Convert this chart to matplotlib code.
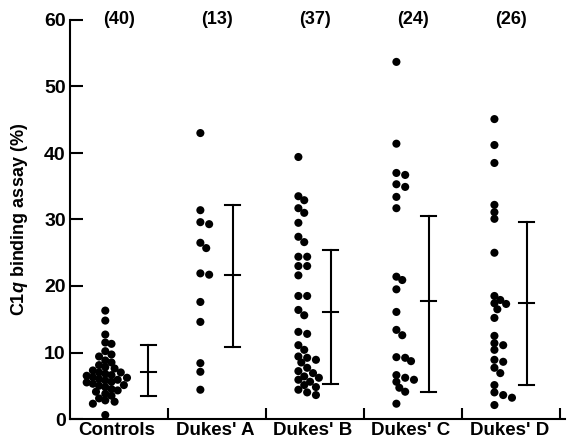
import matplotlib
matplotlib.use("Agg")
import matplotlib.pyplot as plt
import numpy as np

plt.rcParams['font.family'] = ['Liberation Sans', 'DejaVu Sans']
plt.rcParams['mathtext.fontset'] = 'custom'
plt.rcParams['mathtext.it'] = 'Liberation Sans:italic:bold'
plt.rcParams['mathtext.rm'] = 'Liberation Sans:bold'

categories = ["Controls", "Dukes' A", "Dukes' B", "Dukes' C", "Dukes' D"]
counts = ["(40)", "(13)", "(37)", "(24)", "(26)"]

controls = [16.3, 14.8, 12.7, 11.5, 11.3, 10.2, 9.7, 9.4, 8.8, 8.5, 8.1, 7.8, 7.6,
            7.3, 7.0, 7.0, 6.8, 6.6, 6.5, 6.3, 6.2, 6.0, 5.9, 5.8, 5.6, 5.5, 5.3,
            5.1, 5.0, 4.8, 4.5, 4.3, 4.1, 3.8, 3.5, 3.1, 2.8, 2.6, 2.3, 0.6]
dukes_a = [43.0, 31.4, 29.6, 29.3, 26.5, 25.7, 21.9, 21.7, 17.6, 14.6, 8.4, 7.1, 4.4]
dukes_b = [39.4, 33.5, 32.9, 31.7, 31.0, 29.5, 27.4, 26.6, 24.4, 24.4, 23.0, 23.0,
           21.6, 18.5, 18.5, 16.4, 15.6, 13.1, 12.8, 11.1, 10.4, 9.4, 9.2, 8.9,
           8.5, 7.7, 7.2, 6.9, 6.4, 6.2, 5.9, 5.6, 5.1, 4.8, 4.4, 4.0, 3.6]
dukes_c = [53.7, 41.4, 37.0, 36.7, 35.3, 34.9, 33.4, 31.7, 21.4, 20.9, 19.5, 16.1,
           13.4, 12.6, 9.3, 9.2, 8.7, 6.6, 6.2, 5.9, 5.6, 4.7, 4.1, 2.3]
dukes_d = [45.1, 41.2, 38.5, 32.2, 31.1, 30.1, 25.0, 18.5, 17.9, 17.4, 17.3, 16.5,
           15.2, 12.5, 11.4, 11.1, 10.4, 8.9, 8.6, 7.7, 6.9, 5.1, 4.0, 3.6, 3.2, 2.1]

err_mid = [7.0, 21.7, 16.1, 17.7, 17.4]
err_low = [3.4, 10.8, 5.3, 4.1, 5.1]
err_high = [11.1, 32.2, 25.4, 30.5, 29.6]

groups = [controls, dukes_a, dukes_b, dukes_c, dukes_d]

W, H = 567, 444
fig = plt.figure(figsize=(W / 100, H / 100), dpi=100)
ax_left, ax_bottom, ax_w, ax_h = 70 / W, 25 / H, 495 / W, 399 / H
ax = fig.add_axes([ax_left, ax_bottom, ax_w, ax_h])
xmin, xmax, ymin, ymax = 0, 5.05, 0, 60
ax.set_xlim(xmin, xmax)
ax.set_ylim(ymin, ymax)

px_per_x = ax_w * W / (xmax - xmin)
px_per_y = ax_h * H / (ymax - ymin)


def swarm(values, center, diam, mode):
    placed = []
    xs = []
    for v in values:
        py = v * px_per_y
        if mode == 'both':
            cands = [0]
            for k in range(1, 20):
                cands += [k * diam * 0.5, -k * diam * 0.5]
        else:
            cands = [k * diam * 0.45 for k in range(0, 20)]
        for off in cands:
            ok = all((off - ox) ** 2 + (py - oy) ** 2 >= diam ** 2 for ox, oy in placed)
            if ok:
                break
        placed.append((off, py))
        xs.append(center + off / px_per_x)
    return xs


for i, vals in enumerate(groups):
    if i == 0:
        xs = swarm(vals, i + 0.36, 6.2, 'both')
    else:
        xs = swarm(vals, i + 0.33, 6.5, 'right')
    ax.scatter(xs, vals, s=34, color='black', edgecolors='none', zorder=3, clip_on=False)

    ex = i + (0.80 if i == 0 else 0.66)
    cap = 0.075
    ax.plot([ex, ex], [err_low[i], err_high[i]], color='black', lw=1.5)
    for yv in (err_low[i], err_mid[i], err_high[i]):
        ax.plot([ex - cap, ex + cap], [yv, yv], color='black', lw=1.5)

    ax.text(i + 0.5, 60, counts[i], ha='center', va='center', fontsize=13,
            fontweight='bold', clip_on=False)

for s in ('top', 'right'):
    ax.spines[s].set_visible(False)
for s in ('left', 'bottom'):
    ax.spines[s].set_linewidth(1.5)

ax.set_yticks([0, 10, 20, 30, 40, 50, 60])
ax.tick_params(axis='y', direction='in', length=9, width=1.5, pad=3,
               labelsize=14)
for lab in ax.get_yticklabels():
    lab.set_fontweight('bold')

ax.set_xticks([1, 2, 3, 4, 5])
ax.set_xticks([i + 0.48 for i in range(5)], minor=True)
ax.set_xticklabels([], minor=False)
ax.set_xticklabels(categories, minor=True, fontsize=13.5, fontweight='bold')
ax.tick_params(axis='x', which='major', direction='in', length=8, width=1.5)
ax.tick_params(axis='x', which='minor', length=0, pad=2)

ax.set_ylabel(r'C1$\it{q}$ binding assay (%)', fontsize=13, fontweight='bold',
              labelpad=10)

fig.savefig('out.png', dpi=100)
